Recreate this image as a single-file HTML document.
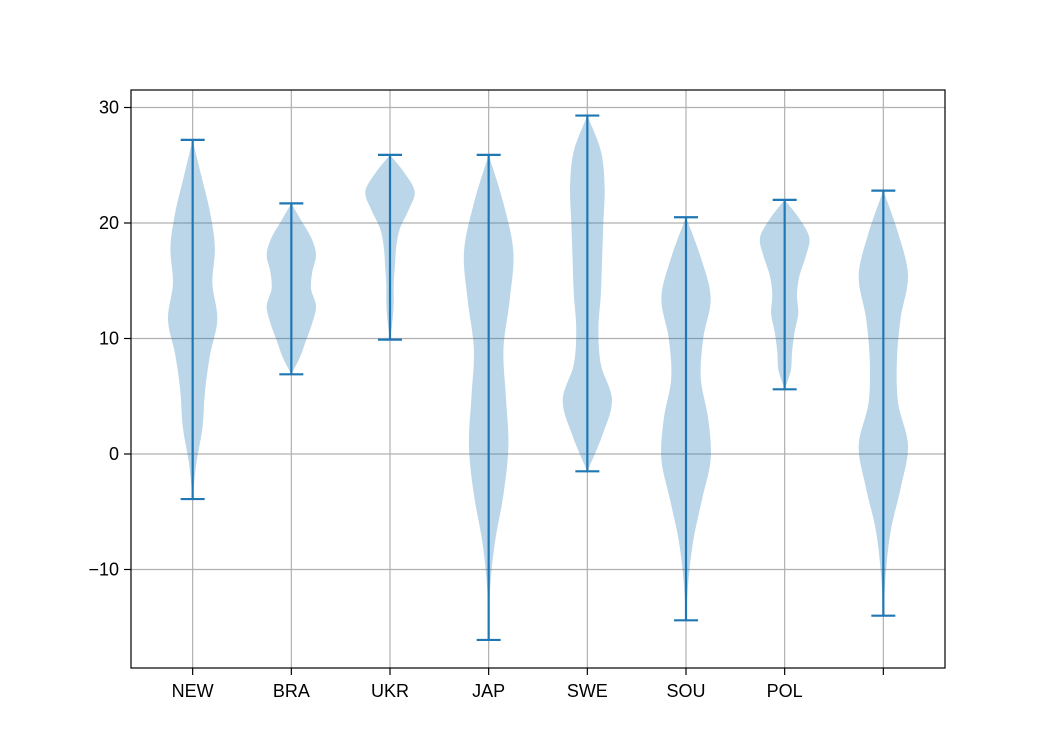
<!DOCTYPE html>
<html><head><meta charset="utf-8"><style>
body{margin:0;background:#fff}
svg text{font-family:"Liberation Sans","DejaVu Sans",sans-serif;font-size:18px;fill:#000}
</style></head><body>
<svg width="1050" height="750" viewBox="0 0 1050 750">
<rect x="0" y="0" width="1050" height="750" fill="#fff"/>
<g id="grid"></g>
<g id="violins"></g>
<rect x="131" y="90" width="814" height="578" fill="none" stroke="#000" stroke-width="1.2"/>
<g id="axes"></g>
</svg>
<script>
const categories=["NEW","BRA","UKR","JAP","SWE","SOU","POL",""];
const mins=[-3.9,6.9,9.9,-16.1,-1.5,-14.4,5.6,-14];
const maxs=[27.2,21.7,25.9,25.9,29.3,20.5,22,22.8];
const densities=[
[0,0.15,0.4,0.5,0.7,1.0,0.8,0.9,0.7,0.35,0],
[0,0.35,0.6,0.85,1.0,0.8,0.85,1.0,0.8,0.4,0],
[0,0.1,0.15,0.15,0.2,0.25,0.4,0.75,1.0,0.6,0],
[0,0.05,0.25,0.6,0.8,0.7,0.6,0.85,1.0,0.6,0],
[0,0.6,1.0,0.55,0.45,0.55,0.6,0.65,0.7,0.55,0],
[0,0.1,0.3,0.65,1.0,0.9,0.6,0.7,1.0,0.6,0],
[0,0.25,0.3,0.4,0.55,0.5,0.6,0.85,1.0,0.6,0],
[0,0.1,0.3,0.7,1.0,0.6,0.55,0.7,1.0,0.6,0]];
const yTicks=[-10,0,10,20,30];

const NS="http://www.w3.org/2000/svg";
const L=131,R=945,T=90,B=668;
const xs=i=>L+(i+1-0.375)*(R-L)/8.25;
const ys=v=>454-11.55*v;
const unitPx=(R-L)/8.25;
function mk(tag,attrs,parent){const e=document.createElementNS(NS,tag);for(const k in attrs)e.setAttribute(k,attrs[k]);parent.appendChild(e);return e;}
const grid=document.getElementById('grid'),vg=document.getElementById('violins'),ax=document.getElementById('axes');
categories.forEach((c,i)=>{
 const l=mk('line',{x1:xs(i),x2:xs(i),y1:T,y2:B,stroke:'#b0b0b0','stroke-width':1.2},grid);
 
 
 const t=mk('line',{x1:xs(i),x2:xs(i),y1:B,y2:B+7,stroke:'#000','stroke-width':1.2},ax);
 
 
 const tx=mk('text',{x:xs(i),y:B+29,'text-anchor':'middle'},ax);tx.textContent=c;
 
 
});
yTicks.forEach(v=>{
 const l=mk('line',{x1:L,x2:R,y1:ys(v),y2:ys(v),stroke:'#b0b0b0','stroke-width':1.2},grid);
 
 
 const t=mk('line',{x1:L-7,x2:L,y1:ys(v),y2:ys(v),stroke:'#000','stroke-width':1.2},ax);
 
 
 const tx=mk('text',{x:L-12,y:ys(v)+6,'text-anchor':'end'},ax);tx.textContent=v<0?'\u2212'+(-v):String(v);
 
 
});
function smooth(pts){
 let d='M'+pts[0][0]+','+pts[0][1];
 for(let i=0;i<pts.length-1;i++){
  const p0=pts[Math.max(0,i-1)],p1=pts[i],p2=pts[i+1],p3=pts[Math.min(pts.length-1,i+2)];
  d+=' C'+(p1[0]+(p2[0]-p0[0])/6)+','+(p1[1]+(p2[1]-p0[1])/6)+' '+(p2[0]-(p3[0]-p1[0])/6)+','+(p2[1]-(p3[1]-p1[1])/6)+' '+p2[0]+','+p2[1];
 }
 return d;
}
densities.forEach((dens,i)=>{
 const cx=xs(i),n=dens.length,hw=0.25*unitPx;
 const right=[],left=[];
 dens.forEach((w,k)=>{const v=mins[i]+(maxs[i]-mins[i])*k/(n-1);right.push([cx+w*hw,ys(v)]);left.push([cx-w*hw,ys(v)]);});
 const d=smooth(right)+' L'+smooth(left.reverse()).slice(1)+' Z';
 const p=mk('path',{d:d,fill:'#1f77b4','fill-opacity':0.3,stroke:'none'},vg);
 
 
 const s=mk('line',{x1:cx,x2:cx,y1:ys(mins[i]),y2:ys(maxs[i]),stroke:'#1f77b4','stroke-width':2.2},vg);
 
 
 [mins[i],maxs[i]].forEach(v=>{
  const c=mk('line',{x1:cx-12,x2:cx+12,y1:ys(v),y2:ys(v),stroke:'#1f77b4','stroke-width':2.2},vg);
  
  
 });
});
</script>
</body></html>
